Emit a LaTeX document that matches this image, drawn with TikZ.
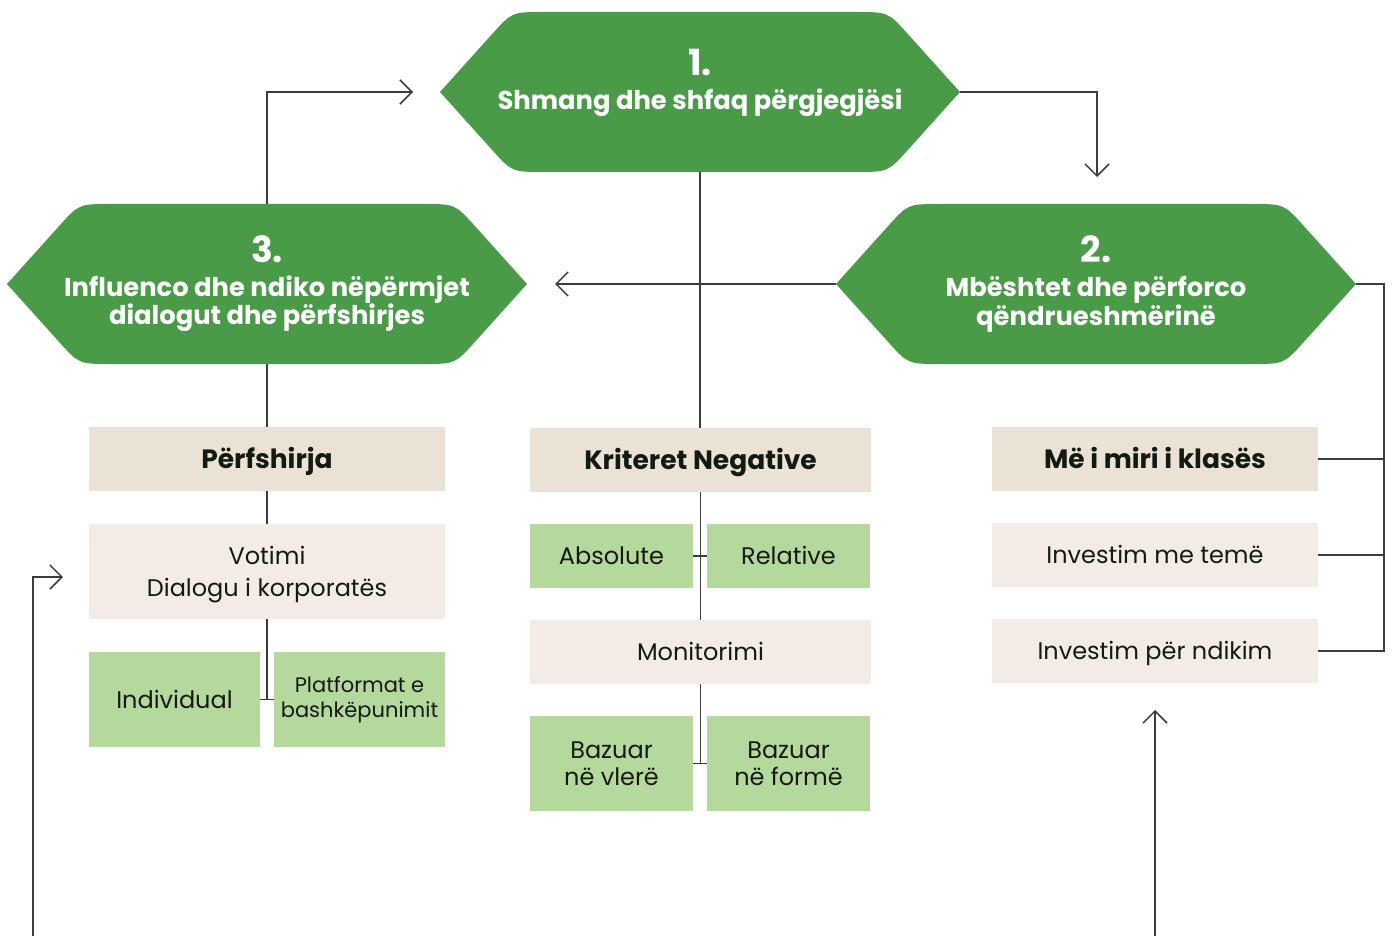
\documentclass[tikz,border=0pt]{standalone}
\usepackage{fontspec}
\setmainfont{Poppins}
\usetikzlibrary{arrows.meta}
\definecolor{hexgreen}{HTML}{4A9B48}
\definecolor{headbg}{HTML}{EAE2D5}
\definecolor{lightbg}{HTML}{F3ECE6}
\definecolor{leafbg}{HTML}{B5D99C}
\definecolor{ink}{HTML}{151A10}
\definecolor{wire}{HTML}{3C3C3A}
\newcommand\hexat[1]{%
  \fill[hexgreen,shift={(#1)}] (-260,0) -- (-208.1,-57.7) .. controls (-188,-80) .. (-156,-80)
    -- (156,-80) .. controls (188,-80) .. (208.1,-57.7) -- (260,0)
    -- (208.1,57.7) .. controls (188,80) .. (156,80)
    -- (-156,80) .. controls (-188,80) .. (-208.1,57.7) -- cycle;}
\tikzset{
  hexnode/.style={minimum width=520pt,minimum height=160pt,inner sep=0pt},
  hexnum/.style={text=white,font=\bfseries\fontsize{36}{36}\selectfont,inner sep=0pt},
  hextxt/.style={text=white,font=\bfseries\fontsize{25.8}{27}\selectfont,align=center,inner sep=0pt},
  box/.style={inner sep=0pt,align=center,text=ink,font=\fontsize{24}{27}\selectfont},
  one/.style={text height=17pt,text depth=0pt},
  headbox/.style={box,fill=headbg,font=\bfseries\fontsize{26.5}{28}\selectfont,text height=18.5pt,text depth=0pt},
  lightbox/.style={box,fill=lightbg},
  leafbox/.style={box,fill=leafbg},
  wire/.style={draw=wire,line width=1.5pt},
  arr/.style={wire,-{Straight Barb[length=12pt,width=24pt,line width=1.5pt]}}
}
\begin{document}
\begin{tikzpicture}[x=1pt,y=-1pt]
\useasboundingbox[fill=white] (0,0) rectangle (1392,936);
% hexagons
\hexat{700,92}
\hexat{267,284}
\hexat{1096,284}
\node[hexnode] (h1) at (700,92) {};
\node[hexnode] (h3) at (267,284) {};
\node[hexnode] (h2) at (1096,284) {};
\node[hexnum,anchor=base] (n1) at (700,76) {1.};
\node[hextxt] (t1) at (700,102.5) {Shmang dhe shfaq përgjegjësi};
\node[hexnum,anchor=base] (n3) at (267,262) {3.};
\node[hextxt] (t3) at (267,303.5) {Influenco dhe ndiko nëpërmjet\\dialogut dhe përfshirjes};
\node[hexnum,anchor=base] (n2) at (1096,262) {2.};
\node[hextxt] (t2) at (1096,304.5) {Mbështet dhe përforco\\qëndrueshmërinë};
% left column
\node[headbox,minimum width=356pt,minimum height=64pt] (pf) at (267,459) {Përfshirja};
\node[lightbox,minimum width=356pt,minimum height=95pt,font=\fontsize{24}{32}\selectfont] (vo) at (267,571.5) {\rule{0pt}{24pt}Votimi\\Dialogu i korporatës};
\node[leafbox,one,minimum width=171pt,minimum height=95pt] (ind) at (174.5,699.5) {Individual};
\node[leafbox,minimum width=171pt,minimum height=95pt,font=\fontsize{21}{25}\selectfont] (pl) at (359.5,699.5) {Platformat e\\bashkëpunimit};
% center column
\node[headbox,minimum width=341pt,minimum height=64pt] (kn) at (700.5,460) {Kriteret Negative};
\node[leafbox,one,minimum width=163pt,minimum height=64pt] (ab) at (611.5,556) {Absolute};
\node[leafbox,one,minimum width=163pt,minimum height=64pt] (re) at (788.5,556) {Relative};
\node[lightbox,one,minimum width=341pt,minimum height=64pt] (mo) at (700.5,652) {Monitorimi};
\node[leafbox,minimum width=163pt,minimum height=95pt] (bv) at (611.5,763.5) {Bazuar\\në vlerë};
\node[leafbox,minimum width=163pt,minimum height=95pt] (bf) at (788.5,763.5) {Bazuar\\në formë};
% right column
\node[headbox,minimum width=326pt,minimum height=64pt] (mk) at (1155,459) {Më i miri i klasës};
\node[lightbox,one,minimum width=326pt,minimum height=64pt] (it) at (1155,555) {Investim me temë};
\node[lightbox,one,minimum width=326pt,minimum height=64pt] (ip) at (1155,651) {Investim për ndikim};
% free ends
\coordinate (a1) at (1097,177);
\coordinate (a2) at (413,92);
\coordinate (a3) at (555,284);
\coordinate (rr) at (1384,284);
\coordinate (b1) at (33,936);
\coordinate (b1e) at (63,577);
\coordinate (b2) at (1155,936);
\coordinate (b2e) at (1155,710);
% connectors
\draw[arr] (h1.east) -| (a1);
\draw[arr] (h3.north) |- (a2);
\draw[arr] (h2.west) -- (a3);
\draw[wire] (h1.south) -- (h1.south |- kn.north);
\draw[wire] (h3.south) -- (pf.north);
\draw[wire] (pf.south) -- (vo.north);
\draw[wire] (vo.south) -- (vo.south |- ind.east);
\draw[wire] (ind.east) -- (pl.west);
\draw[wire] (kn.south) -- (mo.north);
\draw[wire] (ab.east) -- (re.west);
\draw[wire] (mo.south) -- (mo.south |- bv.east);
\draw[wire] (bv.east) -- (bf.west);
\draw[wire] (h2.east) -- (rr) |- (ip.east);
\draw[wire] (mk.east) -- (mk.east -| rr);
\draw[wire] (it.east) -- (it.east -| rr);
\draw[arr] (b1) |- (b1e);
\draw[arr] (b2) -- (b2e);
\end{tikzpicture}
\end{document}
